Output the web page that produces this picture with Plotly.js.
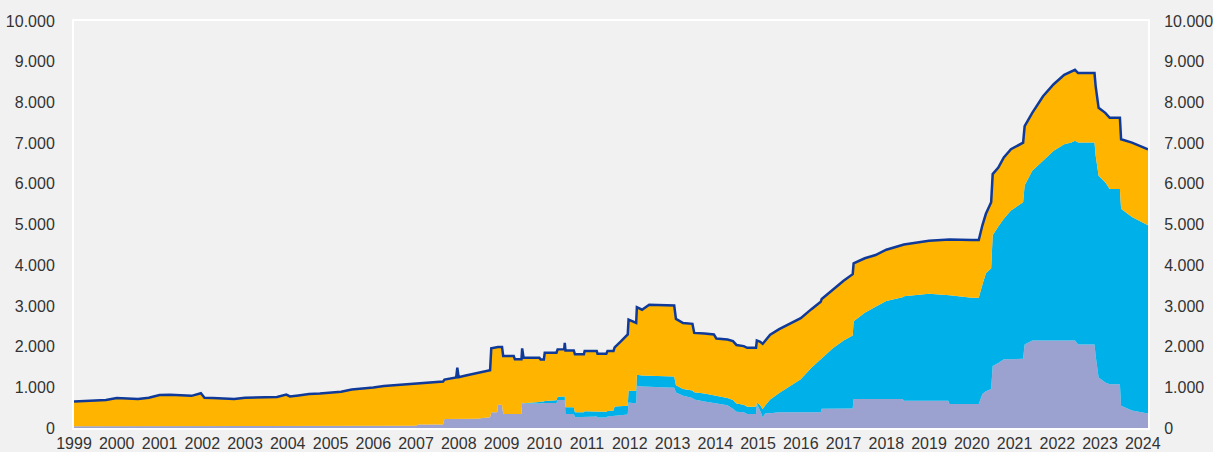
<!DOCTYPE html>
<html><head><meta charset="utf-8">
<script src="https://cdn.plot.ly/plotly-3.0.1.min.js"></script>
<style>html,body{margin:0;padding:0;background:#f1f1f1}#chart{width:1213px;height:452px}</style>
</head><body><div id="chart"></div>
<script>
// Dates of readings
const dates = [
 '1999-01-01','1999-04-01','1999-07-01','1999-10-01','2000-01-01','2000-04-01','2000-07-01','2000-10-01','2001-01-01','2001-04-01',
 '2001-07-01','2001-10-01','2001-12-20','2002-01-20','2002-04-01','2002-07-01','2002-10-01','2003-01-01','2003-04-01','2003-07-01',
 '2003-10-01','2003-12-20','2004-01-20','2004-04-01','2004-07-01','2004-10-01','2005-01-01','2005-04-01','2005-07-01','2005-10-01',
 '2006-01-01','2006-04-01','2006-07-01','2006-10-01',
 '2007-01-01','2007-01-20','2007-05-01','2007-08-20','2007-09-01','2007-12-10','2007-12-20','2007-12-31','2008-03-01','2008-06-01',
 '2008-09-01','2008-09-25','2008-10-05','2008-11-25','2008-12-01','2009-01-05','2009-01-15','2009-04-15','2009-04-25','2009-06-20',
 '2009-06-26','2009-07-08','2009-11-20','2009-12-01','2009-12-28','2010-01-05','2010-04-15','2010-04-25','2010-06-20','2010-06-25',
 '2010-07-01','2010-09-10','2010-09-20','2010-12-05','2010-12-12','2011-03-25','2011-04-01','2011-06-15','2011-06-25','2011-08-15',
 '2011-08-25','2011-10-15','2011-12-15','2011-12-22','2012-02-01','2012-02-25','2012-03-02','2012-04-15','2012-06-15','2012-10-15',
 '2013-01-15','2013-01-30','2013-04-01','2013-06-20','2013-07-05','2013-10-01','2013-12-20','2014-01-10','2014-04-15','2014-06-01',
 '2014-07-01','2014-09-01','2014-10-01','2014-12-15','2014-12-22','2015-01-20','2015-02-10','2015-03-05','2015-04-15','2015-07-01',
 '2015-10-01','2016-01-01','2016-04-01','2016-06-20','2016-06-28','2016-10-01','2017-01-01','2017-03-20','2017-03-28','2017-07-01',
 '2017-10-01','2018-01-01','2018-05-20','2018-06-01','2019-01-01','2019-06-15','2019-06-25','2020-01-01','2020-03-01','2020-04-01',
 '2020-05-01','2020-06-15','2020-06-28','2020-08-15','2020-10-01','2020-12-01','2021-03-15','2021-03-28','2021-06-01','2021-09-01',
 '2021-12-01','2022-03-01','2022-05-01','2022-06-01','2022-06-28','2022-11-15','2022-11-25','2022-12-20','2023-02-15','2023-03-25',
 '2023-06-20','2023-06-30','2023-10-01','2024-02-15'
];
// Top of the lavender layer
const lavenderTop = [
 45,45,45,45,45,45,45,45,50,50,
 50,50,50,50,50,50,50,50,50,50,
 50,50,50,50,50,50,50,50,50,50,
 50,55,55,55,
 55,85,85,85,224,224,224,224,224,230,
 255,263,385,385,573,573,346,346,346,346,
 629,600,600,605,605,614,614,688,690,700,
 346,346,263,263,280,280,255,255,280,290,
 310,320,329,629,610,600,1040,1020,1012,1000,
 990,873,793,740,700,654,620,600,560,470,
 400,385,346,346,600,420,263,361,361,385,
 390,390,390,390,470,470,480,480,712,712,
 712,712,712,671,671,671,590,590,590,834,
 900,956,1524,1600,1688,1688,1700,2054,2151,2151,
 2151,2151,2151,2151,2054,2054,1768,1239,1117,1078,
 1078,549,427,354
];
// Top of the cyan layer
const cyanTop = [
 45,45,45,45,45,45,45,45,50,50,
 50,50,50,50,50,50,50,50,50,50,
 50,50,50,50,50,50,50,50,50,50,
 50,55,55,55,
 55,85,85,85,224,224,224,224,224,230,
 255,263,385,385,573,573,346,346,346,346,
 629,610,640,650,650,665,680,768,775,780,
 507,507,385,385,410,410,400,400,420,430,
 530,545,549,915,915,915,1310,1290,1285,1280,
 1265,1050,956,920,880,850,810,793,740,690,
 600,573,524,524,629,560,468,560,700,860,
 1030,1200,1480,1680,1720,1960,2150,2270,2622,2830,
 2980,3120,3210,3240,3300,3270,3260,3200,3200,3517,
 3800,3922,4736,4950,5141,5346,5549,5956,6322,6566,
 6810,6971,7012,7060,7012,7012,6687,6199,6036,5873,
 5873,5385,5183,4980
];
// Total assets (top line)
const totalAssets = [
 650,665,670,690,735,720,712,745,810,815,
 800,790,855,745,735,718,712,745,748,750,
 760,820,775,800,835,845,870,890,945,965,
 995,1030,1050,1070,
 1095,1100,1120,1140,1190,1240,1480,1250,1290,1350,
 1410,1420,1956,1990,1990,1988,1770,1768,1688,1688,
 1956,1727,1727,1680,1680,1849,1849,1932,1935,2093,
 1907,1907,1810,1810,1890,1890,1825,1825,1890,1890,
 1980,2120,2300,2663,2600,2580,2970,2907,3029,3020,
 3010,2680,2580,2560,2337,2320,2300,2200,2175,2134,
 2040,2012,1970,1970,2151,2120,2068,2150,2290,2430,
 2560,2700,2920,3100,3170,3400,3620,3780,4044,4170,
 4250,4380,4490,4510,4600,4630,4630,4620,4620,4980,
 5263,5549,6239,6400,6646,6849,7012,7419,7744,8151,
 8446,8678,8760,8800,8720,8720,8395,7866,7744,7622,
 7622,7093,7012,6849
];
const yearTicks = ['1999','2000','2001','2002','2003','2004','2005','2006','2007','2008','2009','2010','2011','2012',
 '2013','2014','2015','2016','2017','2018','2019','2020','2021','2022','2023','2024'];
const yTicks = [0,1000,2000,3000,4000,5000,6000,7000,8000,9000,10000];

const traces = [
 {x: dates, y: lavenderTop, type:'scatter', mode:'lines', fill:'tozeroy', fillcolor:'#9ba2d0', line:{width:0,color:'#9ba2d0'}, hoverinfo:'skip'},
 {x: dates, y: cyanTop, type:'scatter', mode:'lines', fill:'tonexty', fillcolor:'#00b1e9', line:{width:0,color:'#00b1e9'}, hoverinfo:'skip'},
 {x: dates, y: totalAssets, type:'scatter', mode:'lines', fill:'tonexty', fillcolor:'#ffb400', line:{width:0,color:'#ffb400'}, hoverinfo:'skip'},
 {x: dates, y: totalAssets, type:'scatter', mode:'lines', line:{width:2.5,color:'#0f3a9a'}, hoverinfo:'skip'},
 {x: dates, y: totalAssets, type:'scatter', mode:'lines', yaxis:'y2', line:{width:0,color:'rgba(0,0,0,0)'}, hoverinfo:'skip'}
];
const font = {family:'"Liberation Sans", Arial, Helvetica, sans-serif', size:16, color:'#333333'};
const yax = {range:[0,10000], tickvals:yTicks, tickformat:',d', showgrid:false, zeroline:false,
  showline:true, linecolor:'#ffffff', linewidth:2, ticks:'outside', tickcolor:'rgba(0,0,0,0)', tickfont:font, fixedrange:true};
const layout = {
 width:1213, height:452, margin:{l:74, r:65, t:21, b:24},
 paper_bgcolor:'#f1f1f1', plot_bgcolor:'#f1f1f1', showlegend:false, separators:',.',
 font: font,
 xaxis:{type:'date', range:['1999-01-01','2024-02-15'], tickvals: yearTicks.map(y=>y+'-01-01'), ticktext: yearTicks,
   showgrid:false, zeroline:false, showline:true, linecolor:'#ffffff', linewidth:2, mirror:true,
   ticks:'', tickfont:font, fixedrange:true},
 yaxis: Object.assign({}, yax, {side:'left', mirror:true, ticklen:14}),
 yaxis2: Object.assign({}, yax, {side:'right', overlaying:'y', ticklen:11})
};
Plotly.newPlot('chart', traces, layout, {displayModeBar:false, staticPlot:true});
</script>
</body></html>
